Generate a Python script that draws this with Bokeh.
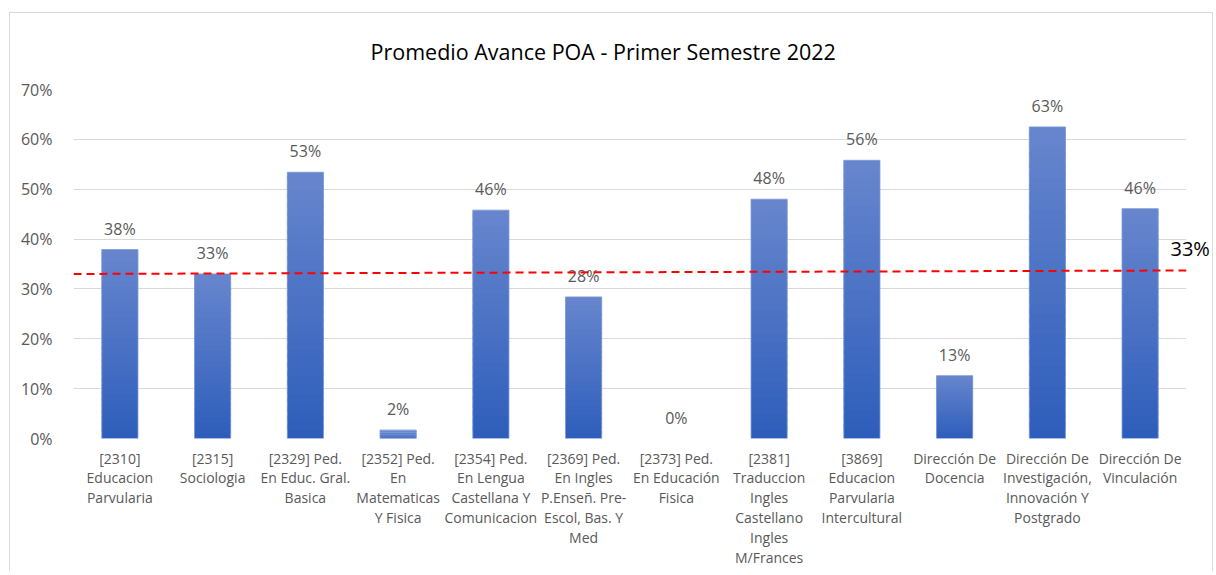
from bokeh.plotting import figure
from bokeh.models import (Range1d, FixedTicker, PrintfTickFormatter, ColumnDataSource,
                          LinearAxis)
from bokeh.core.properties import value
from bokeh.embed import file_html
from bokeh.resources import INLINE

# ---------------- data ----------------
title_text = "Promedio Avance POA - Primer Semestre 2022"
categories = [
    "[2310]\nEducacion\nParvularia",
    "[2315]\nSociologia",
    "[2329] Ped.\nEn Educ. Gral.\nBasica",
    "[2352] Ped.\nEn\nMatematicas\nY Fisica",
    "[2354] Ped.\nEn Lengua\nCastellana Y\nComunicacion",
    "[2369] Ped.\nEn Ingles\nP.Enseñ. Pre-\nEscol, Bas. Y\nMed",
    "[2373] Ped.\nEn Educación\nFisica",
    "[2381]\nTraduccion\nIngles\nCastellano\nIngles\nM/Frances",
    "[3869]\nEducacion\nParvularia\nIntercultural",
    "Dirección De\nDocencia",
    "Dirección De\nInvestigación,\nInnovación Y\nPostgrado",
    "Dirección De\nVinculación",
]
values = [37.9, 33.0, 53.4, 1.7, 45.8, 28.4, 0.0, 48.0, 55.8, 12.6, 62.5, 46.1]
y_ticks = [0, 10, 20, 30, 40, 50, 60, 70]
trend_start = 33.0
trend_end = 33.7
trend_label = "33%"

# ---------------- figure ----------------
FONT = "Open Sans"
GRAY = "#595959"
FRAME_H = 349
LABEL_RAISE_PX = 22

p = figure(frame_width=1113, frame_height=FRAME_H, output_backend="svg", toolbar_location=None,
           x_range=Range1d(0, len(categories)), y_range=Range1d(y_ticks[0], y_ticks[-1]),
           min_border_left=63, min_border_right=23, min_border_top=76, min_border_bottom=133,
           background_fill_color="white", border_fill_color="white")
p.outline_line_color = None
p.styles = {"margin-left": "9px", "margin-top": "12px",
            "border-left": "1px solid #D9D9D9", "border-top": "1px solid #D9D9D9",
            "border-right": "1px solid #D9D9D9"}

p.title.text = title_text
p.title.align = "left"
p.title.offset = 297
p.title.vertical_align = "top"
p.title.text_font = FONT
p.title.text_font_size = "21.5px"
p.title.text_font_style = "normal"
p.title.text_color = "#000000"
p.title.standoff = 44

# grid
p.xgrid.grid_line_color = None
p.ygrid.grid_line_color = "#D9D9D9"
p.ygrid.grid_line_width = 1

# axes
centers = [i + 0.5 for i in range(len(categories))]
p.xaxis.ticker = FixedTicker(ticks=centers)
p.xaxis.major_label_overrides = {c: lab for c, lab in zip(centers, categories)}
p.xaxis.axis_line_color = None
p.xaxis.major_tick_line_color = None
p.xaxis.minor_tick_line_color = None
p.xaxis.major_label_text_font = FONT
p.xaxis.major_label_text_font_size = "14px"
p.xaxis.major_label_text_color = GRAY
p.xaxis.major_label_text_line_height = 1.05
p.xaxis.major_label_standoff = 4

p.yaxis.ticker = FixedTicker(ticks=y_ticks)
p.yaxis.formatter = PrintfTickFormatter(format="%d%%")
p.yaxis.axis_line_color = None
p.yaxis.major_tick_line_color = None
p.yaxis.minor_tick_line_color = None
p.yaxis.major_label_text_font = FONT
p.yaxis.major_label_text_font_size = "16px"
p.yaxis.major_label_text_color = GRAY
p.yaxis.major_label_standoff = 15

# bars with vertical gradient (slices)
N = 30
top_rgb = (104, 134, 206)
bot_rgb = (46, 94, 187)
xs, bots, tops, cols = [], [], [], []
for c, v in zip(centers, values):
    if v <= 0:
        continue
    for i in range(N):
        t = (i + 0.5) / N  # 0 bottom -> 1 top
        r = int(bot_rgb[0] + (top_rgb[0] - bot_rgb[0]) * t)
        g = int(bot_rgb[1] + (top_rgb[1] - bot_rgb[1]) * t)
        b = int(bot_rgb[2] + (top_rgb[2] - bot_rgb[2]) * t)
        xs.append(c)
        bots.append(v * i / N)
        tops.append(min(v, v * (i + 1.6) / N))
        cols.append("#%02x%02x%02x" % (r, g, b))
p.vbar(x=xs, bottom=bots, top=tops, width=0.39, fill_color=cols, line_color=None)
bar_src = ColumnDataSource(dict(x=centers, top=values,
                                lab=["%d%%" % int(v + 0.5) for v in values],
                                la=[0.8 if v > 0 else 0.0 for v in values]))
p.vbar(x="x", top="top", bottom=0, width=0.39, source=bar_src,
       fill_color=None, line_color="#7A98D6", line_width=1,
       line_alpha="la")

# data labels
p.text(x="x", y="top", text="lab", source=bar_src, text_font=value(FONT),
       text_font_size="16px", text_color=GRAY, text_align="center",
       text_baseline="middle", y_offset=-21)

# trend line
p.line(x=[0, len(categories)], y=[trend_start, trend_end], line_color="#FF0000",
       line_width=2, line_dash="8 5")

# trend label drawn as a right-side axis label (so it can sit outside the frame)
shift = LABEL_RAISE_PX * (y_ticks[-1] - y_ticks[0]) / FRAME_H
p.extra_y_ranges = {"lbl": Range1d(y_ticks[0] - shift, y_ticks[-1] - shift)}
lab_axis = LinearAxis(y_range_name="lbl", ticker=FixedTicker(ticks=[trend_end]),
                      major_label_overrides={trend_end: trend_label})
lab_axis.axis_line_color = None
lab_axis.major_tick_line_color = None
lab_axis.minor_tick_line_color = None
lab_axis.major_label_text_font = FONT
lab_axis.major_label_text_font_size = "20px"
lab_axis.major_label_text_color = "#000000"
lab_axis.major_label_standoff = -22
p.add_layout(lab_axis, "right")

open("out.html", "w").write(file_html(p, INLINE))
